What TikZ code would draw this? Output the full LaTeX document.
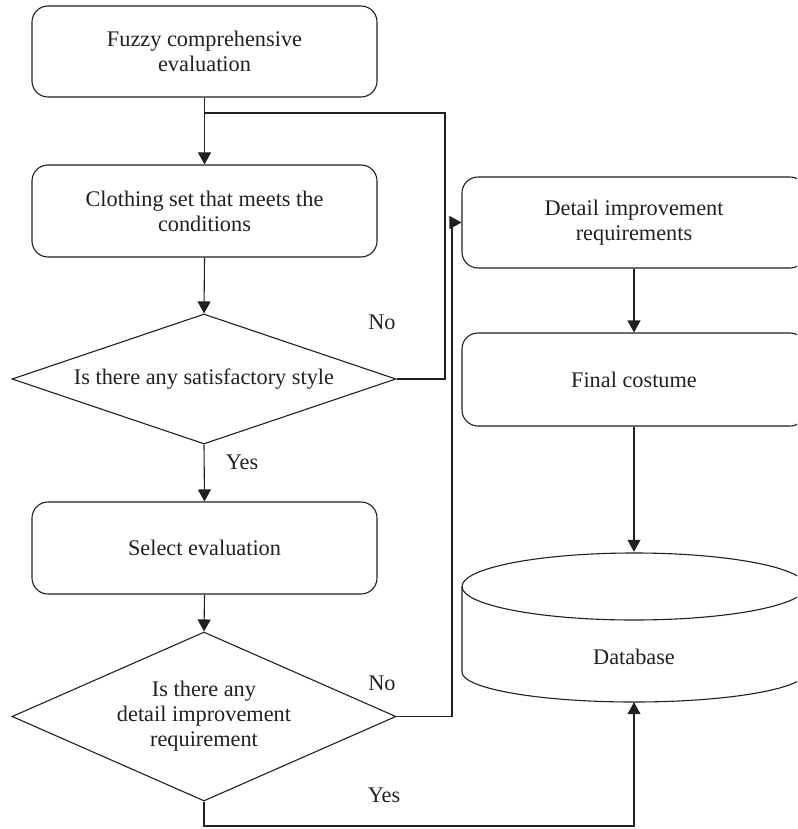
\documentclass[tikz,border=0pt]{standalone}
\usepackage{fontspec}
\setmainfont{Liberation Serif}
\usetikzlibrary{arrows.meta,shapes.geometric}
\definecolor{ink}{HTML}{231F20}
\begin{document}
\begin{tikzpicture}[x=1pt,y=-1pt,
  every node/.style={text=ink,font=\fontsize{22.3}{25}\selectfont,align=center},
  line/.style={draw=ink,line width=1.1pt,line join=miter},
  arr/.style={line,-{Triangle[length=12pt,width=13pt]}},
  procbox/.style={line,rectangle,rounded corners=16pt,inner sep=0pt},
  leftbox/.style={procbox,minimum width=345pt},
  rightbox/.style={procbox,minimum width=344pt},
  decision/.style={line,diamond,inner sep=0pt,minimum width=384pt},
  tag/.style={inner sep=0pt}]
\useasboundingbox (0,0) rectangle (797,829);
\clip (0,0) rectangle (797,829);

% left column
\node[leftbox,minimum height=91pt] (fuzzy) at (204.5,51.5) {Fuzzy comprehensive\\evaluation};
\node[leftbox,minimum height=92pt] (clothing) at (204.5,211) {Clothing set that meets the\\conditions};
\node[decision,aspect=2.95,minimum height=130pt] (q1) at (204,379) {Is there any satisfactory style};
\node[leftbox,minimum height=92pt] (select) at (204.5,548) {Select evaluation};
\node[decision,aspect=2.27,minimum height=169pt] (q2) at (204,716.5) {Is there any\\detail improvement\\requirement};

% right column
\node[rightbox,minimum height=91pt] (detail) at (634,222.5) {Detail improvement\\requirements};
\node[rightbox,minimum height=93pt] (final) at (634,379.5) {Final costume};

% database cylinder
\node[inner sep=0pt,minimum width=344pt,minimum height=150pt] (db) at (634,627) {};
\draw[line] (634,586.5) ellipse [x radius=172pt,y radius=33.5pt];
\draw[line] (462,586.5) -- (462,672) arc [start angle=180,end angle=360,x radius=172pt,y radius=30pt] -- (806,586.5);
\node[tag] (dbtext) at (634,657) {Database};

% connectors
\coordinate (loopjoin) at (204,113);
\coordinate (loopturn) at (445,113);
\coordinate (noturn) at (452,716.5);
\coordinate (yesturn) at (204,826);

\draw[arr] (fuzzy.south) -- (clothing.north);
\draw[line] (q1.east) -| (loopturn) -- (loopjoin);
\draw[arr] (clothing.south) -- (q1.north);
\draw[arr] (q1.south) -- (select.north);
\draw[arr] (select.south) -- (q2.north);
\draw[arr] (q2.east) -- (noturn) |- (detail.west);
\draw[arr] (detail.south) -- (final.north);
\draw[arr] (final.south) -- (db.north);
\draw[arr] (q2.south) -- (yesturn) -| (db.south);

% branch labels
\node[tag] (no1) at (382,322) {No};
\node[tag] (yes1) at (242,462) {Yes};
\node[tag] (no2) at (382,683) {No};
\node[tag] (yes2) at (384,795) {Yes};
\end{tikzpicture}
\end{document}
